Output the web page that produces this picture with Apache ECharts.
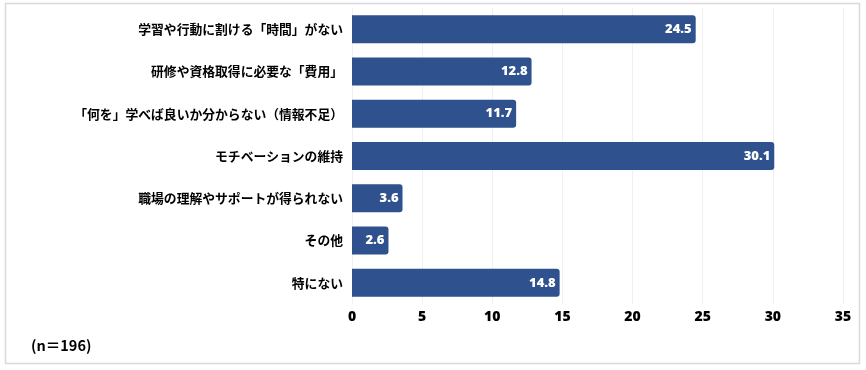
<!DOCTYPE html>
<html><head><meta charset="utf-8">
<script src="https://cdn.jsdelivr.net/npm/echarts@6/dist/echarts.min.js"></script>
<style>html,body{margin:0;padding:0;background:#fff}#c{width:866px;height:370px}</style>
</head><body><div id="c"></div>
<script>
const categories = ["学習や行動に割ける「時間」がない","研修や資格取得に必要な「費用」","「何を」学べば良いか分からない（情報不足）","モチベーションの維持","職場の理解やサポートが得られない","その他","特にない"];
const values = [24.5, 12.8, 11.7, 30.1, 3.6, 2.6, 14.8];
const xTicks = [0, 5, 10, 15, 20, 25, 30, 35];
const note = "(n＝196)";

const numFont = '"Open Sans","Noto Sans",sans-serif';
const chart = echarts.init(document.getElementById('c'), null, {renderer:'canvas'});
chart.setOption({
  animation:false,
  backgroundColor:'#fff',
  grid:{left:352, right:23, top:8, height:296, containLabel:false},
  xAxis:{type:'value', min:xTicks[0], max:xTicks[xTicks.length-1], interval:5,
    axisLine:{show:false}, axisTick:{show:false},
    splitLine:{show:true, lineStyle:{color:'#f0f0f0', width:1}},
    axisLabel:{color:'#000', fontWeight:800, fontSize:14, fontFamily:numFont, margin:6}},
  yAxis:{type:'category', data:categories, inverse:true,
    axisLine:{show:false}, axisTick:{show:false},
    axisLabel:{color:'#000', fontWeight:'bold', fontSize:12.8, fontFamily:'"Noto Sans CJK JP",sans-serif', margin:9}},
  series:[{type:'bar', data:values, barWidth:28,
    itemStyle:{color:'#2F528F', borderRadius:[0,3,3,0]},
    label:{show:true, position:'insideRight', distance:4, color:'#fff', fontWeight:800, fontSize:13, fontFamily:numFont}}],
  graphic:[
    {type:'rect', shape:{x:5.5, y:3.5, width:854, height:360}, style:{fill:'none', stroke:'#d9d9d9', lineWidth:1.5}, silent:true},
    {type:'text', left:31, top:338, style:{text:note, fill:'#000', font:'bold 14.5px "Noto Sans CJK JP", sans-serif'}}
  ]
});
</script></body></html>
